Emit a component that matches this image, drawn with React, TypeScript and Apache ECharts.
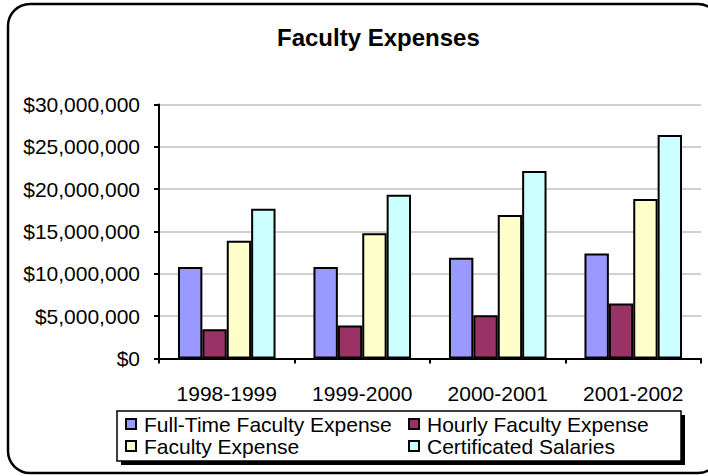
import React, { useEffect, useRef } from "react";
import * as echarts from "echarts";

const categories = ["1998-1999", "1999-2000", "2000-2001", "2001-2002"];
const seriesNames = [
  "Full-Time Faculty Expense",
  "Hourly Faculty Expense",
  "Faculty Expense",
  "Certificated Salaries",
];
const fullTime = [10800000, 10800000, 11900000, 12400000];
const hourly = [3450000, 3900000, 5100000, 6500000];
const faculty = [13900000, 14800000, 16950000, 18850000];
const certificated = [17700000, 19350000, 22150000, 26400000];
const colors = ["#9999FF", "#993366", "#FFFFCC", "#CCFFFF"];
const yTicks = { min: 0, max: 30000000, interval: 5000000 };

const FONT = "'Liberation Sans', Arial, sans-serif";

export default function App() {
  const ref = useRef<HTMLDivElement>(null);
  useEffect(() => {
    document.body.style.margin = "0";
    const chart = echarts.init(ref.current!, null, { renderer: "svg" });
    const values = [fullTime, hourly, faculty, certificated];
    const legendText = { fontFamily: FONT, fontSize: 21, color: "#000", lineHeight: 22, padding: [0, 0, 0, 3] };
    chart.setOption({
      animation: false,
      backgroundColor: "#fff",
      title: {
        text: "Faculty Expenses",
        left: 272,
        top: 20,
        textStyle: { fontFamily: FONT, fontSize: 24, fontWeight: "bold", color: "#000" },
      },
      graphic: [
        {
          type: "rect",
          shape: { x: 8, y: 4, width: 712, height: 469, r: 22 },
          style: { fill: "none", stroke: "#000", lineWidth: 2.5 },
          z: 100,
        },
        {
          type: "rect",
          shape: { x: 121, y: 415, width: 564, height: 50 },
          style: { fill: "#000" },
          z: 1,
        },
        {
          type: "rect",
          shape: { x: 117, y: 411, width: 564, height: 50 },
          style: { fill: "#fff", stroke: "#000", lineWidth: 1.5 },
          z: 2,
        },
      ],
      legend: [
        {
          orient: "vertical",
          left: 125,
          top: 413,
          padding: 0,
          itemWidth: 10,
          itemHeight: 10,
          itemGap: 0,
          icon: "rect",
          data: [seriesNames[0], seriesNames[2]],
          textStyle: legendText,
          z: 10,
        },
        {
          orient: "vertical",
          left: 408,
          top: 413,
          padding: 0,
          itemWidth: 10,
          itemHeight: 10,
          itemGap: 0,
          icon: "rect",
          data: [seriesNames[1], seriesNames[3]],
          textStyle: legendText,
          z: 10,
        },
      ],
      grid: { left: 159, right: 7, top: 104.5, bottom: 117.5, containLabel: false },
      xAxis: {
        type: "category",
        data: categories,
        axisLine: { lineStyle: { color: "#000", width: 2 } },
        axisTick: { show: true, alignWithLabel: false, length: 5, lineStyle: { color: "#000", width: 2 } },
        axisLabel: { fontFamily: FONT, fontSize: 21, color: "#000", margin: 24 },
      },
      yAxis: {
        type: "value",
        min: yTicks.min,
        max: yTicks.max,
        interval: yTicks.interval,
        axisLine: { show: true, lineStyle: { color: "#000", width: 2 } },
        axisTick: { show: true, length: 5, lineStyle: { color: "#000", width: 2 } },
        axisLabel: {
          fontFamily: FONT,
          fontSize: 21,
          color: "#000",
          margin: 19,
          formatter: (v: number) => "$" + v.toLocaleString("en-US"),
        },
        splitLine: { lineStyle: { color: "#C0C0C0", width: 1.5 } },
      },
      series: values.map((d, i) => ({
        name: seriesNames[i],
        type: "bar",
        data: d,
        barGap: "0%",
        barCategoryGap: "28%",
        itemStyle: { color: colors[i], borderColor: "#000", borderWidth: 2 },
        emphasis: { disabled: true },
      })),
    });
    return () => chart.dispose();
  }, []);
  return <div ref={ref} style={{ width: 708, height: 476 }} />;
}
